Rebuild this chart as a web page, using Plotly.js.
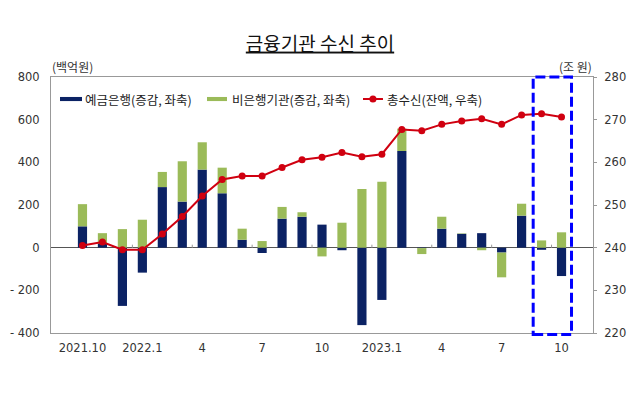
<!DOCTYPE html>
<html>
<head>
<meta charset="utf-8">
<script src="https://cdn.plot.ly/plotly-3.0.1.min.js"></script>
<style>html,body{margin:0;padding:0;background:#fff;}#chart{width:640px;height:396px;}</style>
</head>
<body>
<div id="chart"></div>
<script>
// Months 2021.10 - 2023.10
const months = ["2021.10","2021.11","2021.12","2022.1","2022.2","2022.3","2022.4","2022.5","2022.6","2022.7","2022.8","2022.9","2022.10","2022.11","2022.12","2023.1","2023.2","2023.3","2023.4","2023.5","2023.6","2023.7","2023.8","2023.9","2023.10"];
// 예금은행 (증감, 백억원, 좌축)
const bankChange = [100, 20, -273, -117, 284, 216, 366, 255, 37, -25, 136, 145, 108, -12, -363, -245, 453, -2, 89, 65, 68, -23, 150, -10, -133];
// 비은행기관 (증감, 백억원, 좌축)
const nonBankChange = [104, 48, 87, 131, 71, 189, 128, 120, 52, 31, 55, 21, -41, 117, 275, 309, 105, -28, 56, 2, -12, -116, 56, 34, 72];
// 총수신 (잔액, 조원, 우축)
const totalDeposits = [240.5, 241.3, 239.5, 239.5, 243.2, 247.3, 252.1, 256.0, 256.8, 256.8, 258.8, 260.6, 261.2, 262.3, 261.3, 261.9, 267.7, 267.4, 268.9, 269.7, 270.2, 268.9, 271.1, 271.4, 270.6];
// Axis tick labels
const xTickVals = ["2021.10","2022.1","2022.4","2022.7","2022.10","2023.1","2023.4","2023.7","2023.10"];
const xTickText = ["2021.10","2022.1","4","7","10","2023.1","4","7","10"];
const yLeftVals = [-400,-200,0,200,400,600,800];
const yLeftText = ["- 400","- 200","0","200","400","600","800"];
const yRightVals = [220,230,240,250,260,270,280];
const seriesNames = ['예금은행(증감, 좌축)', '비은행기관(증감, 좌축)', '총수신(잔액, 우축)'];

const FONT = "'Noto Sans CJK KR', 'Noto Sans', sans-serif";
const NUMFONT = "'DejaVu Sans', sans-serif";
const NAVY = '#0B2264', GREEN = '#9BBB59', RED = '#D00010';

const traces = [
  {type:'bar', name:seriesNames[0], x:months, y:bankChange, marker:{color:NAVY}, yaxis:'y'},
  {type:'bar', name:seriesNames[1], x:months, y:nonBankChange, marker:{color:GREEN}, yaxis:'y'},
  {type:'scatter', mode:'lines+markers', name:seriesNames[2], x:months, y:totalDeposits, yaxis:'y2',
   line:{color:RED, width:2}, marker:{color:RED, size:7}}
];

// custom legend (paper coordinates)
const legY = 0.914;
const shapes = [
  {type:'rect', xref:'paper', yref:'paper', x0:0.0166, x1:0.0572, y0:legY-0.008, y1:legY+0.008, fillcolor:NAVY, line:{width:0}},
  {type:'rect', xref:'paper', yref:'paper', x0:0.2878, x1:0.3247, y0:legY-0.008, y1:legY+0.008, fillcolor:GREEN, line:{width:0}},
  {type:'line', xref:'paper', yref:'paper', x0:0.5756, x1:0.6125, y0:legY, y1:legY, line:{color:RED, width:2}},
  {type:'circle', xref:'paper', yref:'paper', x0:0.594-0.0065, x1:0.594+0.0065, y0:legY-0.0137, y1:legY+0.0137, fillcolor:RED, line:{width:0}},
  {type:'rect', xref:'x', yref:'paper', x0:22.58, x1:24.5, y0:-0.006, y1:1.0, line:{color:'#0000FF', width:3, dash:'10px,4px'}, fillcolor:'rgba(0,0,0,0)'}
];
// small tick marks on the zero line every 3 categories
for (let k = 3; k < months.length; k += 3) {
  shapes.push({type:'line', xref:'x', yref:'y', x0:k-0.5, x1:k-0.5, y0:0, y1:14, line:{color:'#999', width:1}});
}

const layout = {
  width:640, height:396,
  margin:{l:51, r:47, t:77, b:63},
  paper_bgcolor:'#fff', plot_bgcolor:'#fff',
  font:{family:FONT, size:11, color:'#222'},
  barmode:'relative', bargap:0.54,
  showlegend:false,
  title:{text:'<u>금융기관 수신 추이</u>', x:0.5, xanchor:'center', y:0.889, yanchor:'middle', font:{family:FONT, size:19, color:'#111'}},
  xaxis:{type:'category', tickvals:xTickVals, ticktext:xTickText, showgrid:false, showline:true, mirror:true,
         linecolor:'#999', linewidth:1, ticks:'', tickfont:{family:NUMFONT, size:11.5, color:'#333'}, ticklabelstandoff:4},
  yaxis:{range:[-400,800], tickvals:yLeftVals, ticktext:yLeftText, showgrid:false, showline:true, linecolor:'#999', linewidth:1,
         zeroline:true, zerolinecolor:'#555', zerolinewidth:1, ticks:'', tickfont:{family:NUMFONT, size:11.5, color:'#333'}, ticklabelstandoff:8},
  yaxis2:{range:[220,280], tickvals:yRightVals, overlaying:'y', side:'right', showgrid:false, showline:true, linecolor:'#999',
          linewidth:1, zeroline:false, ticks:'outside', ticklen:3, tickcolor:'#999', tickfont:{family:NUMFONT, size:11.5, color:'#333'}, ticklabelstandoff:5},
  annotations:[
    {text:'(백억원)', xref:'paper', yref:'paper', x:-0.002, y:1.04, xanchor:'left', yanchor:'middle', showarrow:false, font:{size:12, color:'#333'}},
    {text:'(조 원)', xref:'paper', yref:'paper', x:0.968, y:1.04, xanchor:'center', yanchor:'middle', showarrow:false, font:{size:12, color:'#333'}},
    {text:seriesNames[0], xref:'paper', yref:'paper', x:0.059, y:legY, xanchor:'left', yanchor:'middle', showarrow:false, font:{size:12.5, color:'#222'}},
    {text:seriesNames[1], xref:'paper', yref:'paper', x:0.3303, y:legY, xanchor:'left', yanchor:'middle', showarrow:false, font:{size:12.5, color:'#222'}},
    {text:seriesNames[2], xref:'paper', yref:'paper', x:0.6162, y:legY, xanchor:'left', yanchor:'middle', showarrow:false, font:{size:12.5, color:'#222'}}
  ],
  shapes:shapes
};

Plotly.newPlot('chart', traces, layout, {staticPlot:true, displayModeBar:false});
</script>
</body>
</html>
